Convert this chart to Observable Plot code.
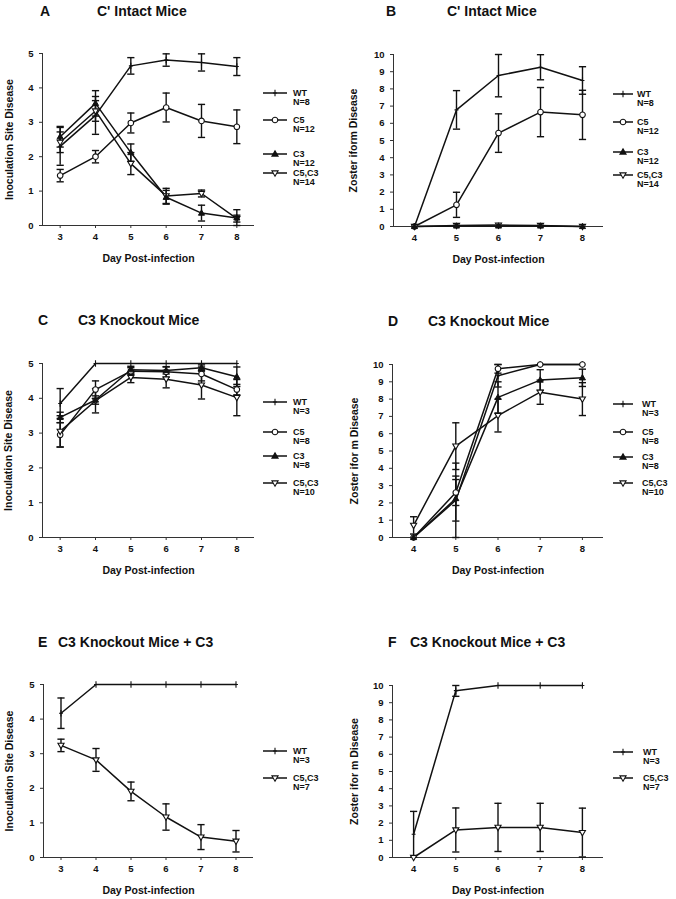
<!DOCTYPE html>
<html><head><meta charset="utf-8">
<script src="https://cdn.jsdelivr.net/npm/d3@7"></script>
<script src="https://cdn.jsdelivr.net/npm/@observablehq/plot@0.6"></script>
<style>
body{margin:0;background:#fff;}
#root{position:relative;width:676px;height:899px;font-family:"Liberation Sans",Arial,sans-serif;font-weight:bold;color:#111;overflow:hidden;}
.abs{position:absolute;}
.title{font-size:14px;line-height:16px;white-space:nowrap;}
.legtxt{font-size:9px;line-height:8.5px;white-space:nowrap;}
g[aria-label="y-axis label"], g[aria-label="x-axis label"]{font-size:10.5px;}
</style></head><body><div id="root"></div>
<script>
// ---------- data ----------
const seriesNames = ["WT", "C5", "C3", "C5,C3"];
const daysInoc = [3, 4, 5, 6, 7, 8];
const daysZost = [4, 5, 6, 7, 8];
const inocTicks = [0, 1, 2, 3, 4, 5];
const zostTicks = [0, 1, 2, 3, 4, 5, 6, 7, 8, 9, 10];
const xLabel = "Day Post-infection";
const inocLabel = "Inoculation Site Disease";

// Panel A: C' Intact Mice, inoculation site disease
const aWT   = [2.30, 3.20, 4.64, 4.81, 4.74, 4.62];
const aWTe  = [0.55, 0.55, 0.24, 0.18, 0.25, 0.26];
const aC5   = [1.45, 2.00, 2.98, 3.43, 3.04, 2.87];
const aC5e  = [0.18, 0.18, 0.29, 0.42, 0.48, 0.49];
const aC3   = [2.58, 3.55, 2.12, 0.82, 0.36, 0.22];
const aC3e  = [0.30, 0.37, 0.25, 0.20, 0.23, 0.24];
const aC53  = [2.42, 3.33, 1.80, 0.86, 0.93, 0.20];
const aC53e = [0.30, 0.30, 0.32, 0.22, 0.10, 0.10];
const aN = ["N=8", "N=12", "N=12", "N=14"];

// Panel B: C' Intact Mice, zosteriform disease
const bWT   = [0, 6.78, 8.78, 9.26, 8.49];
const bWTe  = [0, 1.12, 1.24, 0.73, 0.80];
const bC5   = [0, 1.26, 5.43, 6.65, 6.49];
const bC5e  = [0, 0.73, 1.12, 1.43, 1.43];
const bC3   = [0, 0.03, 0.03, 0.03, 0];
const bC3e  = [0, 0, 0, 0, 0];
const bC53  = [0, 0.06, 0.08, 0.06, 0];
const bC53e = [0, 0, 0, 0, 0];
const bN = ["N=8", "N=12", "N=12", "N=14"];

// Panel C: C3 Knockout Mice, inoculation site disease
const cWT   = [3.85, 5, 5, 5, 5, 5];
const cWTe  = [0.43, 0, 0, 0, 0, 0];
const cC5   = [2.95, 4.25, 4.78, 4.76, 4.70, 4.25];
const cC5e  = [0.35, 0.25, 0.10, 0.15, 0.20, 0.15];
const cC3   = [3.45, 3.95, 4.82, 4.80, 4.88, 4.62];
const cC3e  = [0.15, 0.12, 0.10, 0.10, 0.08, 0.28];
const cC53  = [3.05, 3.93, 4.60, 4.55, 4.38, 4.02];
const cC53e = [0.45, 0.35, 0.15, 0.25, 0.40, 0.52];
const cN = ["N=3", "N=8", "N=8", "N=10"];

// Panel D: C3 Knockout Mice, zosteriform disease
const dWT   = [0, 2.15, 9.35, 10, 10];
const dWTe  = [0, 2.15, 0.65, 0, 0];
const dC5   = [0, 2.60, 9.75, 10, 10];
const dC5e  = [0, 0.75, 0.25, 0, 0];
const dC3   = [0, 2.25, 8.10, 9.10, 9.23];
const dC3e  = [0, 1.30, 0.90, 0.60, 0.50];
const dC53  = [0.70, 5.28, 7.05, 8.40, 8.00];
const dC53e = [0.50, 1.35, 0.95, 0.70, 0.95];
const dN = ["N=3", "N=8", "N=8", "N=10"];

// Panel E: C3 Knockout Mice + C3, inoculation site disease
const eWT   = [4.17, 5, 5, 5, 5, 5];
const eWTe  = [0.44, 0, 0, 0, 0, 0];
const eC53  = [3.24, 2.82, 1.91, 1.17, 0.59, 0.47];
const eC53e = [0.18, 0.33, 0.27, 0.38, 0.36, 0.31];
const eN = ["N=3", "N=7"];

// Panel F: C3 Knockout Mice + C3, zosteriform disease
const fWT   = [1.35, 9.70, 10, 10, 10];
const fWTe  = [1.33, 0.33, 0, 0, 0];
const fC53  = [0, 1.60, 1.75, 1.75, 1.45];
const fC53e = [0, 1.28, 1.40, 1.40, 1.42];
const fN = ["N=3", "N=7"];

// ---------- symbols ----------
const symPlus = {draw(ctx, size) {
  const r = Math.sqrt(size / Math.PI);
  ctx.moveTo(0, -r * 1.15); ctx.lineTo(0, r * 1.15);
  ctx.moveTo(-r * 0.7, 0); ctx.lineTo(r * 0.7, 0);
}};
const symCircle = d3.symbolCircle;
const symTri = {draw(ctx, size) {
  const r = Math.sqrt(size / Math.PI) * 1.15;
  ctx.moveTo(0, -r); ctx.lineTo(r * 0.95, r * 0.65); ctx.lineTo(-r * 0.95, r * 0.65); ctx.closePath();
}};
const symInvTri = {draw(ctx, size) {
  const r = Math.sqrt(size / Math.PI) * 1.15;
  ctx.moveTo(0, r); ctx.lineTo(r * 0.95, -r * 0.65); ctx.lineTo(-r * 0.95, -r * 0.65); ctx.closePath();
}};
const symCap = {draw(ctx, size) {
  const r = Math.sqrt(size / Math.PI);
  ctx.moveTo(-r, 0); ctx.lineTo(r, 0);
}};
const symbolRange = [symPlus, symCircle, symTri, symInvTri];
const filledSeries = "C3";

// ---------- panels ----------
const panels = [
  {letter: "A", title: "C' Intact Mice", days: daysInoc, xDomain: [2.5, 8.5], yMax: 5, yTicks: inocTicks, yLabel: inocLabel,
   names: seriesNames, means: [aWT, aC5, aC3, aC53], errs: [aWTe, aC5e, aC3e, aC53e], ns: aN,
   box: {left: 0, top: 40, ml: 42, pw: 212, mr: 6, mt: 13, ph: 172, mb: 45, yOff: 37},
   head: {letterX: 40, titleX: 97, y: 3},
   leg: {lineX: 263, lineW: 24, textX: 293, ys: [93, 120, 154, 173]}},
  {letter: "B", title: "C' Intact Mice", days: daysZost, xDomain: [3.5, 8.5], yMax: 10, yTicks: zostTicks, yLabel: "Zoster iform Disease",
   names: seriesNames, means: [bWT, bC5, bC3, bC53], errs: [bWTe, bC5e, bC3e, bC53e], ns: bN,
   box: {left: 340, top: 40, ml: 53, pw: 210, mr: 6, mt: 14, ph: 172, mb: 45, yOff: 44},
   head: {letterX: 386, titleX: 447, y: 3},
   leg: {lineX: 613, lineW: 20, textX: 637, ys: [94, 122, 152, 175]}},
  {letter: "C", title: "C3 Knockout Mice", days: daysInoc, xDomain: [2.5, 8.5], yMax: 5, yTicks: inocTicks, yLabel: inocLabel,
   names: seriesNames, means: [cWT, cC5, cC3, cC53], errs: [cWTe, cC5e, cC3e, cC53e], ns: cN,
   box: {left: 0, top: 350, ml: 42, pw: 212, mr: 6, mt: 13, ph: 174, mb: 45, yOff: 38},
   head: {letterX: 38, titleX: 78, y: 312},
   leg: {lineX: 263, lineW: 24, textX: 293, ys: [402, 432, 456, 483]}},
  {letter: "D", title: "C3 Knockout Mice", days: daysZost, xDomain: [3.5, 8.5], yMax: 10, yTicks: zostTicks, yLabel: "Zoster ifor m Disease",
   names: seriesNames, means: [dWT, dC5, dC3, dC53], errs: [dWTe, dC5e, dC3e, dC53e], ns: dN,
   box: {left: 340, top: 350, ml: 52, pw: 211, mr: 6, mt: 14, ph: 173, mb: 45, yOff: 42},
   head: {letterX: 388, titleX: 428, y: 313},
   leg: {lineX: 613, lineW: 20, textX: 642, ys: [404, 432, 457, 483]}},
  {letter: "E", title: "C3 Knockout Mice + C3", days: daysInoc, xDomain: [2.5, 8.5], yMax: 5, yTicks: inocTicks, yLabel: inocLabel,
   names: ["WT", "C5,C3"], means: [eWT, eC53], errs: [eWTe, eC53e], ns: eN,
   box: {left: 0, top: 670, ml: 43, pw: 210, mr: 6, mt: 14, ph: 173, mb: 45, yOff: 38},
   head: {letterX: 38, titleX: 58, y: 634},
   leg: {lineX: 263, lineW: 24, textX: 293, ys: [751, 778]}},
  {letter: "F", title: "C3 Knockout Mice + C3", days: daysZost, xDomain: [3.5, 8.5], yMax: 10, yTicks: zostTicks, yLabel: "Zoster ifor m Disease",
   names: ["WT", "C5,C3"], means: [fWT, fC53], errs: [fWTe, fC53e], ns: fN,
   box: {left: 340, top: 670, ml: 52, pw: 211, mr: 6, mt: 15, ph: 172, mb: 45, yOff: 42},
   head: {letterX: 388, titleX: 410, y: 634},
   leg: {lineX: 613, lineW: 20, textX: 643, ys: [752, 778]}}
];

const root = document.getElementById("root");
const ink = "#111";

function el(tag, cls, styles, html) {
  const e = document.createElement(tag);
  if (cls) e.className = cls;
  Object.assign(e.style, styles || {});
  if (html != null) e.innerHTML = html;
  return e;
}

for (const p of panels) {
  const rows = [];
  p.names.forEach((s, i) => p.days.forEach((d, j) =>
    rows.push({series: s, day: d, value: p.means[i][j], se: p.errs[i][j]})));
  const withErr = rows.filter(r => r.se > 0);
  const lo = r => Math.max(0, r.value - r.se);
  const hi = r => Math.min(p.yMax, r.value + r.se);
  const b = p.box;
  const width = b.ml + b.pw + b.mr, height = b.mt + b.ph + b.mb;

  const chart = Plot.plot({
    width, height,
    marginLeft: b.ml, marginRight: b.mr, marginTop: b.mt, marginBottom: b.mb,
    style: {fontFamily: '"Liberation Sans", Arial, sans-serif', fontWeight: "bold", fontSize: "9.5px", color: ink, background: "transparent", overflow: "visible"},
    x: {domain: p.xDomain},
    y: {domain: [0, p.yMax]},
    symbol: {domain: seriesNames, range: symbolRange},
    marks: [
      Plot.ruleY([0], {stroke: "#333", strokeWidth: 1}),
      Plot.ruleX([p.xDomain[0]], {stroke: "#333", strokeWidth: 1}),
      Plot.axisX({ticks: p.days, tickSize: 3, tickPadding: 5, tickFormat: d => String(d),
        label: xLabel, labelAnchor: "center", labelOffset: 36, labelArrow: "none", stroke: "#333"}),
      Plot.axisY({ticks: p.yTicks, tickSize: 3, tickPadding: 6, tickFormat: d => String(d),
        label: p.yLabel, labelAnchor: "center", labelOffset: b.yOff, labelArrow: "none", stroke: "#333"}),
      Plot.line(rows, {x: "day", y: "value", z: "series", stroke: ink, strokeWidth: 1.5}),
      Plot.ruleX(withErr, {x: "day", y1: lo, y2: hi, stroke: ink, strokeWidth: 1.4}),
      Plot.dot(withErr, {x: "day", y: lo, symbol: symCap, r: 3.6, stroke: ink, strokeWidth: 1.4, fill: "none"}),
      Plot.dot(withErr, {x: "day", y: hi, symbol: symCap, r: 3.6, stroke: ink, strokeWidth: 1.4, fill: "none"}),
      Plot.dot(rows.filter(r => r.series !== filledSeries), {x: "day", y: "value", symbol: "series", r: 2.8, stroke: ink, strokeWidth: 1.1, fill: "white"}),
      Plot.dot(rows.filter(r => r.series === filledSeries), {x: "day", y: "value", symbol: "series", r: 2.8, stroke: ink, strokeWidth: 1, fill: ink})
    ]
  });
  const wrap = el("div", "abs", {left: b.left + "px", top: b.top + "px", width: width + "px", height: height + "px"});
  wrap.appendChild(chart);
  root.appendChild(wrap);

  // heading
  root.appendChild(el("div", "abs title", {left: p.head.letterX + "px", top: p.head.y + "px"}, p.letter));
  root.appendChild(el("div", "abs title", {left: p.head.titleX + "px", top: p.head.y + "px"}, p.title));

  // legend
  p.names.forEach((s, i) => {
    const ly = p.leg.ys[i];
    const k = seriesNames.indexOf(s);
    const sym = symbolRange[k];
    const w = p.leg.lineW;
    const path = d3.symbol(sym, Math.PI * 2.8 * 2.8)();
    const filled = s === filledSeries;
    const svg = `<svg width="${w}" height="10" style="display:block;overflow:visible">
      <line x1="0" x2="${w}" y1="5" y2="5" stroke="${ink}" stroke-width="1.5"/>
      <path d="${path}" transform="translate(${w / 2},5)" fill="${filled ? ink : "white"}" stroke="${ink}" stroke-width="1.1"/></svg>`;
    root.appendChild(el("div", "abs", {left: p.leg.lineX + "px", top: (ly - 5) + "px"}, svg));
    root.appendChild(el("div", "abs legtxt", {left: p.leg.textX + "px", top: (ly - 4) + "px"}, s + "<br>" + p.ns[i]));
  });
}
</script></body></html>
